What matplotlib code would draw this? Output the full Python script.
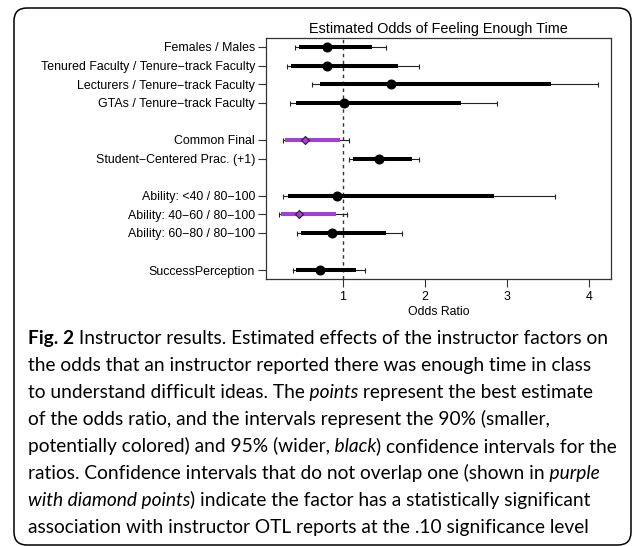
import numpy as np
import matplotlib
matplotlib.use("Agg")
import matplotlib.pyplot as plt
from matplotlib.patches import FancyBboxPatch
from matplotlib.transforms import IdentityTransform

labels = ["Females / Males",
          "Tenured Faculty / Tenure\u2212track Faculty",
          "Lecturers / Tenure\u2212track Faculty",
          "GTAs / Tenure\u2212track Faculty",
          "Common Final",
          "Student\u2212Centered Prac. (+1)",
          "Ability: <40 / 80\u2212100",
          "Ability: 40\u221260 / 80\u2212100",
          "Ability: 60\u221280 / 80\u2212100",
          "SuccessPerception"]
rows = [1, 2, 3, 4, 6, 7, 9, 10, 11, 13]
est = [0.81, 0.81, 1.59, 1.02, 0.54, 1.44, 0.93, 0.47, 0.87, 0.72]
lo90 = [0.47, 0.37, 0.72, 0.43, 0.30, 1.12, 0.33, 0.25, 0.49, 0.43]
hi90 = [1.36, 1.67, 3.53, 2.44, 0.96, 1.84, 2.84, 0.92, 1.53, 1.16]
lo95 = [0.42, 0.32, 0.62, 0.36, 0.27, 1.07, 0.27, 0.22, 0.44, 0.39]
hi95 = [1.52, 1.93, 4.11, 2.88, 1.07, 1.93, 3.58, 1.05, 1.72, 1.27]
highlight = [False, False, False, False, True, False, False, True, False, False]

caption = [
    [("Fig. 2", "bold"), (" Instructor results. Estimated effects of the instructor factors on", "normal")],
    [("the odds that an instructor reported there was enough time in class", "normal")],
    [("to understand difficult ideas. The", "normal"), (" points", "italic"),
     (" represent the best estimate", "normal")],
    [("of the odds ratio, and the intervals represent the 90% (smaller,", "normal")],
    [("potentially colored) and 95% (wider,", "normal"), (" black", "italic"),
     (") confidence intervals for the", "normal")],
    [("ratios. Confidence intervals that do not overlap one (shown in", "normal"), (" purple", "italic")],
    [("with diamond points", "italic"), (") indicate the factor has a statistically significant", "normal")],
    [("association with instructor OTL reports at the .10 significance level", "normal")],
]

purple = "#A040D8"
W, H = 633, 546

plt.rcParams["font.family"] = ["Liberation Sans", "DejaVu Sans"]
fig = plt.figure(figsize=(W / 100, H / 100), dpi=100)

# rounded frame around the panel
frame = FancyBboxPatch((14, 1), 617, 537, boxstyle="round,pad=0,rounding_size=13",
                       transform=IdentityTransform(), fill=False, lw=1.1, ec="black")
fig.add_artist(frame)

ax = fig.add_axes([266 / W, 1 - 279 / H, 345 / W, 241 / H])

est = np.array(est)
lo95 = np.array(lo95)
hi95 = np.array(hi95)

ax.axvline(1, color="#333333", lw=1, linestyle=(0, (2.5, 2.5)), zorder=1)

ax.errorbar(est, rows, xerr=[est - lo95, hi95 - est], fmt="none", ecolor="#222222",
            elinewidth=0.8, capsize=1.8, capthick=0.8, zorder=2)

for r, e, a, b, h in zip(rows, est, lo90, hi90, highlight):
    c = purple if h else "black"
    ax.plot([a, b], [r, r], color=c, lw=2.9, solid_capstyle="butt", zorder=3)
    if h:
        ax.plot(e, r, marker="D", ms=4.2, mfc=purple, mec="#222222", mew=0.8, zorder=4)
    else:
        ax.plot(e, r, marker="o", ms=6.2, color="black", zorder=4)

span = max(hi95) - min(lo95)
ax.set_xlim(min(lo95) - 0.04 * span, max(hi95) + 0.04 * span)
ax.set_ylim(max(rows) + 0.04 * (max(rows) - min(rows)), min(rows) - 0.04 * (max(rows) - min(rows)))
ax.set_xticks([1, 2, 3, 4])
ax.set_yticks(rows)
ax.set_yticklabels(labels)
ax.tick_params(axis="y", labelsize=8.9, length=6, width=0.8, color="#333333", pad=2)
ax.tick_params(axis="x", labelsize=8.9, length=6, width=0.8, color="#333333", pad=3)
for s in ax.spines.values():
    s.set_color("#333333")
    s.set_linewidth(0.9)
ax.set_xlabel("Odds Ratio", fontsize=8.8, labelpad=2)

fig.text(438.5 / W, 1 - 29 / H, "Estimated Odds of Feeling Enough Time",
         fontsize=10.4, ha="center", va="center")

# caption, sized so the first line fills the panel width
renderer = fig.canvas.get_renderer()
wtot = 0
for txt, sty in caption[0]:
    t = fig.text(0, 0, txt, family="Lato", fontsize=10,
                 fontweight="bold" if sty == "bold" else "normal")
    wtot += t.get_window_extent(renderer).width
    t.remove()
csize = 10 * 584 / wtot

centers = [338, 365, 392, 419, 446, 473, 500, 527]
for line, yc in zip(caption, centers):
    prev = None
    for txt, sty in line:
        kw = dict(family="Lato", fontsize=csize, va="bottom", ha="left",
                  fontweight="bold" if sty == "bold" else "normal",
                  fontstyle="italic" if sty == "italic" else "normal")
        if prev is None:
            prev = fig.text(28 / W, 1 - (yc + 9) / H, txt, **kw)
        else:
            prev = fig.add_artist(plt.Annotation(txt, xy=(1, 0), xycoords=prev, **kw))

fig.savefig("out.png", dpi=100)
